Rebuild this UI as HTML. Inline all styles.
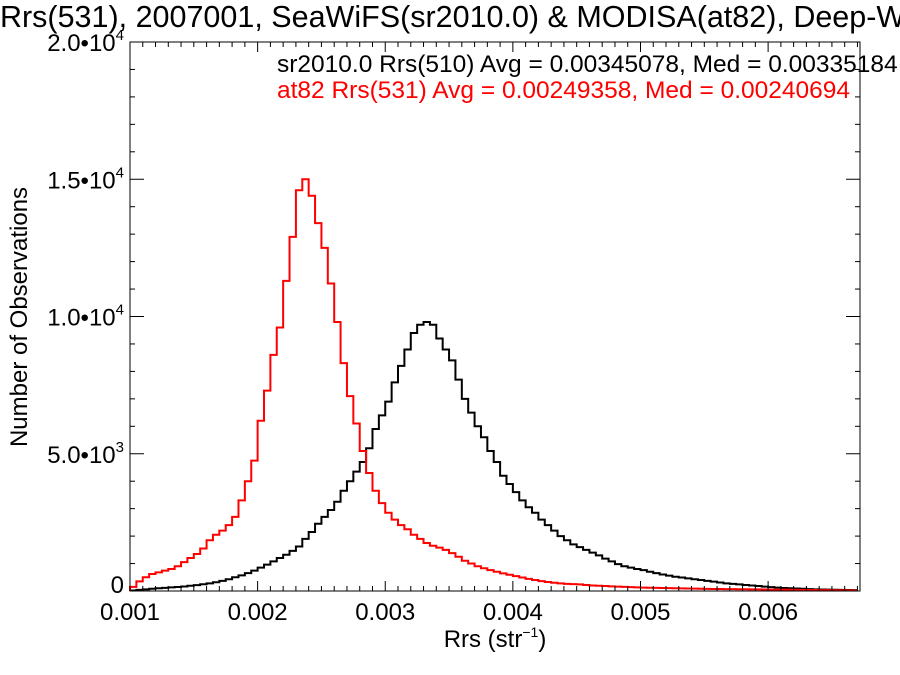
<!DOCTYPE html>
<html><head><meta charset="utf-8"><style>
html,body{margin:0;padding:0;background:#fff;overflow:hidden;}
svg{display:block;font-family:"Liberation Sans",sans-serif;}
</style></head><body>
<svg id="chart" width="900" height="675" viewBox="0 0 900 675" xmlns="http://www.w3.org/2000/svg">
<rect width="900" height="675" fill="#fff"/>
<text x="0" y="27" font-size="30.5" fill="#000">Rrs(531), 2007001, SeaWiFS(sr2010.0) &amp; MODISA(at82), Deep-Water</text>
<g id="plot"></g>
<text x="277" y="72" font-size="24.5" fill="#000">sr2010.0 Rrs(510) Avg = 0.00345078, Med = 0.00335184</text>
<text x="277" y="98" font-size="24.5" fill="#ff0000">at82 Rrs(531) Avg = 0.00249358, Med = 0.00240694</text>
<text x="495" y="647" font-size="24" text-anchor="middle">Rrs (str<tspan font-size="14" dy="-10">−1</tspan><tspan dy="10">)</tspan></text>
<text transform="translate(27,317) rotate(-90)" font-size="24" text-anchor="middle">Number of Observations</text>
</svg>
<script>
const binStart = 0.001;
const binWidth = 0.00005;
const redCounts = [150,350,500,620,680,740,800,900,1050,1200,1350,1550,1850,2050,2200,2400,2700,3300,4000,4750,6200,7300,8600,9600,11300,12900,14600,15000,14400,13400,12500,11200,9800,8300,7100,6100,5100,4300,3650,3200,2850,2600,2400,2250,2050,1900,1750,1650,1580,1500,1380,1250,1100,1000,900,830,760,700,640,590,540,490,440,400,360,330,300,280,260,250,240,220,200,190,180,170,160,150,140,130,125,120,115,110,105,100,95,90,85,80,78,75,72,70,68,65,62,60,58,55,52,50,48,45,42,40,38,35,32,30,28,25,22,20];
const blackCounts = [20,40,60,80,100,115,130,145,165,190,215,245,280,320,370,430,500,570,650,740,850,960,1080,1200,1320,1460,1620,1900,2150,2450,2700,2950,3250,3650,4000,4350,4700,5200,5900,6400,6900,7600,8200,8800,9400,9700,9800,9700,9200,8800,8400,7700,7000,6500,6000,5600,5100,4700,4200,3900,3600,3300,3050,2850,2600,2400,2200,2000,1850,1700,1600,1500,1400,1300,1180,1080,980,900,850,800,760,700,650,600,560,520,490,460,430,400,370,340,310,280,260,240,220,200,180,160,140,125,110,100,90,80,70,60,55,50,45,40,35,30];
const xTickVals = [0.001,0.002,0.003,0.004,0.005,0.006];
const xTickLabels = ["0.001","0.002","0.003","0.004","0.005","0.006"];
const yTickVals = [0,5000,10000,15000,20000];
const yTickMant = ["0","5.0","1.0","1.5","2.0"];
const yTickExp = ["","3","4","4","4"];

const L=130,R=860,T=42,B=591,xmin=0.001,xmax=0.00672,ymax=20000;
const sx=v=>L+(v-xmin)/(xmax-xmin)*(R-L);
const sy=v=>B-v/ymax*(B-T);
const NS="http://www.w3.org/2000/svg";
const g=document.getElementById('plot');
function mk(tag,attrs){const e=document.createElementNS(NS,tag);for(const k in attrs)e.setAttribute(k,attrs[k]);g.appendChild(e);return e;}

function stepPath(counts){
  let d="M"+sx(binStart)+","+sy(0);
  counts.forEach((c,i)=>{const x0=sx(binStart+i*binWidth),x1=sx(Math.min(binStart+(i+1)*binWidth,xmax));d+=" L"+x0+","+sy(c)+" L"+x1+","+sy(c);});
  return d;
}
const pb=mk('path',{d:stepPath(blackCounts),fill:'none',stroke:'#000','stroke-width':2});


const pr=mk('path',{d:stepPath(redCounts),fill:'none',stroke:'#ff0000','stroke-width':2});



const frame=mk('rect',{x:L,y:T,width:R-L,height:B-T,fill:'none',stroke:'#000','stroke-width':1});



for(let v=xmin;v<=xmax+1e-9;v+=0.0001){
  const major=Math.abs(v*1000-Math.round(v*1000))<1e-6;
  const len=major?10:5,x=sx(v);
  const t1=mk('line',{x1:x,y1:B,x2:x,y2:B-len,stroke:'#000','stroke-width':1});
  
  
  const t2=mk('line',{x1:x,y1:T,x2:x,y2:T+len,stroke:'#000','stroke-width':1});
  
  
}
xTickVals.forEach((v,i)=>{
  const t=mk('text',{x:sx(v),y:B+29,'font-size':24,'text-anchor':'middle'});
  t.textContent=xTickLabels[i];
  
  
});
for(let v=0;v<=ymax;v+=1000){
  const major=v%5000===0,len=major?14:5,y=sy(v);
  const t1=mk('line',{x1:L,y1:y,x2:L+len,y2:y,stroke:'#000','stroke-width':1});
  
  
  const t2=mk('line',{x1:R,y1:y,x2:R-len,y2:y,stroke:'#000','stroke-width':1});
  
  
}
yTickVals.forEach((v,i)=>{
  const t=mk('text',{x:124,y:sy(v)+(v===0?2:9),'font-size':24,'text-anchor':'end'});
  if(yTickExp[i]){
    t.innerHTML=yTickMant[i]+"•10<tspan font-size='15' dy='-11'>"+yTickExp[i]+"</tspan>";
  } else t.textContent=yTickMant[i];
  
  
});
</script>
</body></html>
